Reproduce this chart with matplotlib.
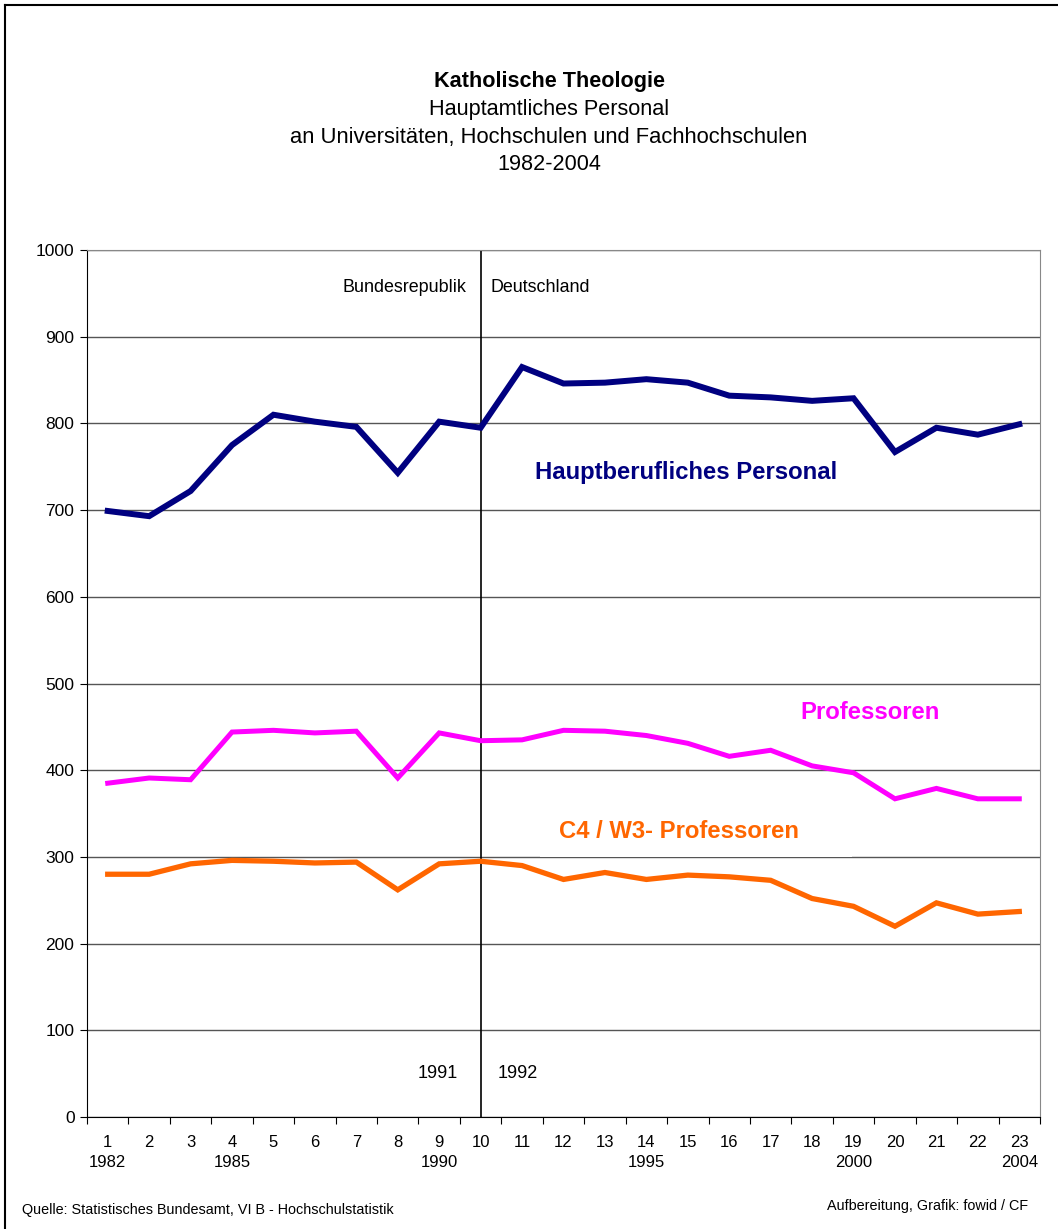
import numpy as np
import matplotlib
matplotlib.use("Agg")
import matplotlib.pyplot as plt
from matplotlib.lines import Line2D
from matplotlib.patches import Rectangle

plt.rcParams['font.family'] = ['Liberation Sans', 'DejaVu Sans']

# data
positions = list(range(1, 24))
year_labels = {1: '1982', 4: '1985', 9: '1990', 14: '1995', 19: '2000', 23: '2004'}

personal = [699, 693, 722, 775, 810, 802, 796, 743, 802, 795, 865, 846,
            847, 851, 847, 832, 830, 826, 829, 767, 795, 787, 799]
professoren = [385, 391, 389, 444, 446, 443, 445, 391, 443, 434, 435, 446,
               445, 440, 431, 416, 423, 405, 397, 367, 379, 367, 367]
c4_w3 = [280, 280, 292, 296, 295, 293, 294, 262, 292, 295, 290, 274,
         282, 274, 279, 277, 273, 252, 243, 220, 247, 234, 237]

W, H = 1058, 1229
fig = plt.figure(figsize=(W / 100, H / 100), dpi=100)
ax = fig.add_axes([87 / W, 1 - 1117 / H, (1040 - 87) / W, (1117 - 250) / H])

ax.set_xlim(0.5, 23.5)
ax.set_ylim(0, 1000)
ax.set_yticks(range(0, 1001, 100))
ax.yaxis.grid(True, color='#555555', linewidth=1.0)
ax.set_axisbelow(True)

# x ticks between categories, labels on category centers
ax.set_xticks(np.arange(0.5, 24, 1))
ax.set_xticklabels([])
ax.set_xticks(positions, minor=True)
labels = []
for p in positions:
    labels.append(str(p) + '\n' + year_labels.get(p, ''))
ax.set_xticklabels(labels, minor=True, fontsize=12, linespacing=1.45)
ax.tick_params(axis='x', which='minor', length=0, pad=13)
ax.tick_params(axis='x', which='major', length=5, direction='out')
ax.tick_params(axis='y', length=5, direction='out', labelsize=12.5, pad=4)

for s in ['top', 'right']:
    ax.spines[s].set_color('#888888')
ax.spines['left'].set_color('black')
ax.spines['bottom'].set_color('black')

ax.axvline(10, color='black', linewidth=1.2)

# white label box behind the C4 / W3 label
ax.add_patch(Rectangle((11.43, 300.4), 18.97 - 11.43, 62, facecolor='white',
                       edgecolor='none', zorder=1))

ax.plot(positions, personal, color='#000080', linewidth=4.3, solid_joinstyle='miter', zorder=3)
ax.plot(positions, professoren, color='#FF00FF', linewidth=3.6, solid_joinstyle='miter', zorder=3)
ax.plot(positions, c4_w3, color='#FF6600', linewidth=3.8, solid_joinstyle='miter', zorder=3)

ax.text(11.31, 743, 'Hauptberufliches Personal', color='#000080', fontsize=17.2,
        fontweight='bold', va='center')
ax.text(17.71, 466, 'Professoren', color='#FF00FF', fontsize=17.2,
        fontweight='bold', va='center')
ax.text(11.89, 329, 'C4 / W3- Professoren', color='#FF6600', fontsize=17.2,
        fontweight='bold', va='center', zorder=4)

ax.text(9.65, 957, 'Bundesrepublik', ha='right', va='center', fontsize=12.9)
ax.text(10.25, 957, 'Deutschland', ha='left', va='center', fontsize=12.9)
ax.text(9.45, 49.6, '1991', ha='right', va='center', fontsize=13)
ax.text(10.42, 49.6, '1992', ha='left', va='center', fontsize=13)

tx = 549 / W
fig.text(tx, 1 - 82 / H, 'Katholische Theologie', ha='center', va='center',
         fontsize=15.6, fontweight='bold')
fig.text(tx, 1 - 109 / H, 'Hauptamtliches Personal', ha='center', va='center', fontsize=15.6)
fig.text(tx, 1 - 137 / H, 'an Universitäten, Hochschulen und Fachhochschulen',
         ha='center', va='center', fontsize=15.8)
fig.text(tx, 1 - 164 / H, '1982-2004', ha='center', va='center', fontsize=15.6)

fig.text(22 / W, 1 - 1210 / H, 'Quelle: Statistisches Bundesamt, VI B - Hochschulstatistik',
         ha='left', va='center', fontsize=10.4)
fig.text(1028 / W, 1 - 1206 / H, 'Aufbereitung, Grafik: fowid / CF',
         ha='right', va='center', fontsize=10.4)

# outer frame (left and top edges)
fig.add_artist(Line2D([5 / W, 5 / W], [0, 1 - 5 / H], color='black', linewidth=1.5,
                      transform=fig.transFigure))
fig.add_artist(Line2D([5 / W, 1], [1 - 5 / H, 1 - 5 / H], color='black', linewidth=1.5,
                      transform=fig.transFigure))

fig.savefig('out.png', dpi=100)
